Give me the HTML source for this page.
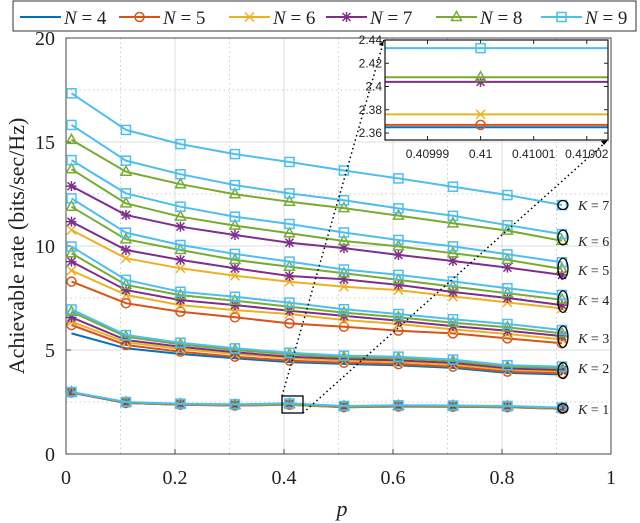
<!DOCTYPE html>
<html><head><meta charset="utf-8"><style>
body{margin:0;background:#fff;width:640px;height:523px;overflow:hidden}
svg{display:block}
</style></head><body>
<svg id="chart" width="640" height="523" xmlns="http://www.w3.org/2000/svg" font-family="Liberation Serif, serif"></svg>
<script>
const pValues=[0.01,0.11,0.21,0.31,0.41,0.51,0.61,0.71,0.81,0.91];
const xTicks=[0,0.2,0.4,0.6,0.8,1];
const xTickLabels=["0","0.2","0.4","0.6","0.8","1"];
const yTicks=[0,5,10,15,20];
const yTickLabels=["0","5","10","15","20"];
const nLabels=[4,5,6,7,8,9];
const kLabels=[1,2,3,4,5,6,7];
const k1Start=[2.95,2.95,2.96,2.96,2.97,2.98];
const k1N4=[2.95,2.45,2.37,2.33,2.365,2.25,2.28,2.27,2.25,2.17];
const k1N5=[2.95,2.45,2.37,2.33,2.367,2.25,2.28,2.27,2.25,2.17];
const k1N6=[2.96,2.46,2.38,2.34,2.376,2.26,2.29,2.28,2.26,2.18];
const k1N7=[2.96,2.47,2.39,2.36,2.404,2.28,2.31,2.30,2.28,2.2];
const k1N8=[2.97,2.48,2.40,2.37,2.408,2.29,2.32,2.31,2.29,2.21];
const k1N9=[2.98,2.50,2.42,2.39,2.433,2.31,2.34,2.33,2.31,2.23];
const k2N4=[5.8,5.08,4.81,4.6,4.42,4.33,4.26,4.14,3.9,3.82];
const k2N5=[6.2,5.24,4.92,4.68,4.49,4.39,4.32,4.2,3.96,3.88];
const k2N6=[6.36,5.37,5.05,4.81,4.6,4.49,4.42,4.3,4.05,3.97];
const k2N7=[6.57,5.48,5.16,4.89,4.68,4.57,4.5,4.38,4.12,4.04];
const k2N8=[6.84,5.64,5.27,5.0,4.79,4.66,4.6,4.47,4.2,4.12];
const k2N9=[6.95,5.72,5.35,5.08,4.87,4.73,4.68,4.54,4.27,4.2];
const k3N5=[8.29,7.25,6.84,6.57,6.28,6.12,5.93,5.8,5.56,5.32];
const k3N6=[8.82,7.65,7.16,6.92,6.73,6.44,6.25,5.99,5.77,5.51];
const k3N7=[9.25,7.88,7.4,7.16,6.89,6.64,6.41,6.15,5.93,5.67];
const k3N8=[9.65,8.13,7.64,7.37,7.08,6.8,6.57,6.31,6.09,5.8];
const k3N9=[9.97,8.37,7.8,7.56,7.28,6.96,6.73,6.48,6.25,5.96];
const k4N6=[10.77,9.41,8.93,8.57,8.28,8.04,7.88,7.57,7.29,7.0];
const k4N7=[11.17,9.81,9.33,8.93,8.56,8.4,8.13,7.79,7.5,7.16];
const k4N8=[11.89,10.32,9.81,9.33,9.0,8.69,8.37,8.05,7.73,7.42];
const k4N9=[12.29,10.64,10.05,9.62,9.25,8.87,8.61,8.3,7.97,7.65];
const k5N7=[12.88,11.49,10.93,10.53,10.16,9.9,9.57,9.28,8.96,8.61];
const k5N8=[13.69,12.05,11.41,10.98,10.61,10.24,9.98,9.65,9.33,8.9];
const k5N9=[14.13,12.53,11.89,11.41,11.06,10.65,10.29,9.98,9.6,9.22];
const k6N8=[15.1,13.57,12.97,12.49,12.13,11.82,11.46,11.09,10.74,10.25];
const k6N9=[15.82,14.1,13.45,12.93,12.53,12.2,11.81,11.45,11.0,10.57];
const k7N9=[17.34,15.58,14.9,14.42,14.04,13.63,13.25,12.85,12.45,11.97];
const insetX=0.41;
const insetValues=[2.365,2.367,2.376,2.404,2.408,2.433];
const insetXTicks=[0.40999,0.41,0.41001,0.41002];
const insetXTickLabels=["0.40999","0.41","0.41001","0.41002"];
const insetYTicks=[2.36,2.38,2.4,2.42,2.44];
const insetYTickLabels=["2.36","2.38","2.4","2.42","2.44"];

const colors={4:"#0072BD",5:"#D95319",6:"#EDB120",7:"#7E2F8E",8:"#77AC30",9:"#4DBEEE"};
const series=[
 [1,4,k1N4],[1,5,k1N5],[1,6,k1N6],[1,7,k1N7],[1,8,k1N8],[1,9,k1N9],
 [2,4,k2N4],[2,5,k2N5],[2,6,k2N6],[2,7,k2N7],[2,8,k2N8],[2,9,k2N9],
 [3,5,k3N5],[3,6,k3N6],[3,7,k3N7],[3,8,k3N8],[3,9,k3N9],
 [4,6,k4N6],[4,7,k4N7],[4,8,k4N8],[4,9,k4N9],
 [5,7,k5N7],[5,8,k5N8],[5,9,k5N9],
 [6,8,k6N8],[6,9,k6N9],[7,9,k7N9]];

const NS="http://www.w3.org/2000/svg";
const svg=document.getElementById('chart');
function mk(tag,attrs,parent){const e=document.createElementNS(NS,tag);for(const k in attrs)e.setAttribute(k,attrs[k]);(parent||svg).appendChild(e);return e;}
const X0=66,X1=611,Y0=454,Y1=38;
const xs=p=>X0+(p-0)/(1-0)*(X1-X0);
const ys=v=>Y0-(v/20)*(Y0-Y1);

// grid
const grid=mk('g',{});


for(let i=1;i<10;i++){const p=i/10;mk('line',{x1:xs(p),x2:xs(p),y1:Y1,y2:Y0,stroke:i%2?"#ccc":"#ddd","stroke-width":1,"stroke-dasharray":i%2?"1.5,3":""},grid);}
for(let i=1;i<8;i++){const v=i*2.5;mk('line',{x1:X0,x2:X1,y1:ys(v),y2:ys(v),stroke:i%2?"#ccc":"#ddd","stroke-width":1,"stroke-dasharray":i%2?"1.5,3":""},grid);}
mk('rect',{x:X0,y:Y1,width:X1-X0,height:Y0-Y1,fill:"none",stroke:"#444","stroke-width":1});

// ticks
xTicks.forEach((t,i)=>{
 mk('line',{x1:xs(t),x2:xs(t),y1:Y0,y2:Y0-5,stroke:"#444"});
 const tx=mk('text',{x:xs(t),y:484,"font-size":20,"text-anchor":"middle",fill:"#222"});tx.textContent=xTickLabels[i];
 
 
});
yTicks.forEach((t,i)=>{
 mk('line',{x1:X0,x2:X0+5,y1:ys(t),y2:ys(t),stroke:"#444"});
 const tx=mk('text',{x:55,y:ys(t)+7,"font-size":20,"text-anchor":"end",fill:"#222"});tx.textContent=yTickLabels[i];
 
 
});
const xl=mk('text',{x:342,y:516,"font-size":22,"font-style":"italic","text-anchor":"middle",fill:"#222"});xl.textContent="p";


const yl=mk('text',{x:0,y:0,"font-size":22,"text-anchor":"middle",fill:"#222",transform:"translate(24,246) rotate(-90)"});yl.textContent="Achievable rate (bits/sec/Hz)";



function marker(n,x,y,parent){
 const c=colors[n];const a={fill:"none",stroke:c,"stroke-width":1.5};
 if(n==5)mk('circle',Object.assign({cx:x,cy:y,r:4.5},a),parent);
 else if(n==6){mk('path',Object.assign({d:`M${x-4.5},${y-4.5}L${x+4.5},${y+4.5}M${x-4.5},${y+4.5}L${x+4.5},${y-4.5}`},a),parent);}
 else if(n==7){mk('path',Object.assign({d:`M${x-5},${y}L${x+5},${y}M${x},${y-5}L${x},${y+5}M${x-4},${y-4}L${x+4},${y+4}M${x-4},${y+4}L${x+4},${y-4}`},a),parent);}
 else if(n==8)mk('path',Object.assign({d:`M${x},${y-5.5}L${x+5},${y+3.5}L${x-5},${y+3.5}Z`},a),parent);
 else if(n==9)mk('rect',Object.assign({x:x-4.5,y:y-4.5,width:9,height:9},a),parent);
}
// series
series.forEach(([k,n,vals])=>{
 const g=mk('g',{});
 
 
 const d=vals.map((v,i)=>(i?'L':'M')+xs(pValues[i]).toFixed(1)+','+ys(v).toFixed(1)).join('');
 mk('path',{d:d,fill:"none",stroke:colors[n],"stroke-width":2},g);
 vals.forEach((v,i)=>marker(n,xs(pValues[i]),ys(v),g));
});
// ellipses and K labels
const kLabelY=[409,368,338,300,270,241,205];
kLabels.forEach((k,i)=>{
 const grp=series.filter(s=>s[0]===k).map(s=>s[2][s[2].length-1]);
 const hi=ys(Math.max(...grp)),lo=ys(Math.min(...grp));
 const e=mk('ellipse',{cx:xs(0.91)+1,cy:(hi+lo)/2,rx:5,ry:Math.max(4.5,(lo-hi)/2+4),fill:"none",stroke:"#000","stroke-width":1.3});
 
 
 const t=mk('text',{x:578,y:kLabelY[i]+5,"font-size":14,fill:"#222"});
 t.innerHTML='<tspan font-style="italic">K</tspan> = '+k;
 
 
});
// zoom box and connectors
const zb=mk('rect',{x:282,y:396,width:21,height:17,fill:"none",stroke:"#000","stroke-width":1.3});


mk('line',{x1:282,y1:396,x2:384,y2:40,stroke:"#000","stroke-width":1.5,"stroke-dasharray":"1.5,3"});
mk('line',{x1:303,y1:413,x2:608,y2:140,stroke:"#000","stroke-width":1.5,"stroke-dasharray":"1.5,3"});
mk('path',{d:"M384,40l-5,5l4,1z",fill:"#000"});
mk('path',{d:"M608,140l-7,1l3,4z",fill:"#000"});
// inset
const IX0=385,IX1=608,IY0=140,IY1=40;
const ixs=x=>IX0+(x-0.409982)/(0.410024-0.409982)*(IX1-IX0);
const iys=v=>133-(v-2.36)/0.08*93;
const ins=mk('g',{});


mk('rect',{x:IX0,y:IY1,width:IX1-IX0,height:IY0-IY1,fill:"#fff",stroke:"none"},ins);
insetYTicks.forEach((t,i)=>{
 mk('line',{x1:IX0,x2:IX0+4,y1:iys(t),y2:iys(t),stroke:"#222"},ins);
 mk('line',{x1:IX1,x2:IX1-4,y1:iys(t),y2:iys(t),stroke:"#222"},ins);
 const tx=mk('text',{x:IX0-3,y:iys(t)+4,"font-size":12,"text-anchor":"end","font-family":"Liberation Sans, sans-serif",fill:"#222"},ins);tx.textContent=insetYTickLabels[i];
});
insetXTicks.forEach((t,i)=>{
 mk('line',{x1:ixs(t),x2:ixs(t),y1:IY0,y2:IY0-4,stroke:"#222"},ins);
 mk('line',{x1:ixs(t),x2:ixs(t),y1:IY1,y2:IY1+4,stroke:"#222"},ins);
 const tx=mk('text',{x:ixs(t),y:158,"font-size":12,"text-anchor":"middle","font-family":"Liberation Sans, sans-serif",fill:"#222"},ins);tx.textContent=insetXTickLabels[i];
});
insetValues.forEach((v,i)=>{
 const n=nLabels[i];
 mk('line',{x1:IX0,x2:IX1,y1:iys(v),y2:iys(v),stroke:colors[n],"stroke-width":2},ins);
 marker(n,ixs(insetX),iys(v),ins);
});
mk('rect',{x:IX0,y:IY1,width:IX1-IX0,height:IY0-IY1,fill:"none",stroke:"#222","stroke-width":1.3},ins);
// legend
const lg=mk('g',{});


mk('rect',{x:13,y:1,width:623,height:30,fill:"#fff",stroke:"#333","stroke-width":1},lg);
const legX=[20,119,229,326,436,541];
nLabels.forEach((n,i)=>{
 const e=mk('g',{},lg);
 
 
 mk('line',{x1:legX[i],x2:legX[i]+41,y1:17,y2:17,stroke:colors[n],"stroke-width":2},e);
 marker(n,legX[i]+20.5,17,e);
 const t=mk('text',{x:legX[i]+44,y:24,"font-size":19,fill:"#222"},e);
 t.innerHTML='<tspan font-style="italic">N</tspan> = '+n;
});
</script>
</body></html>
